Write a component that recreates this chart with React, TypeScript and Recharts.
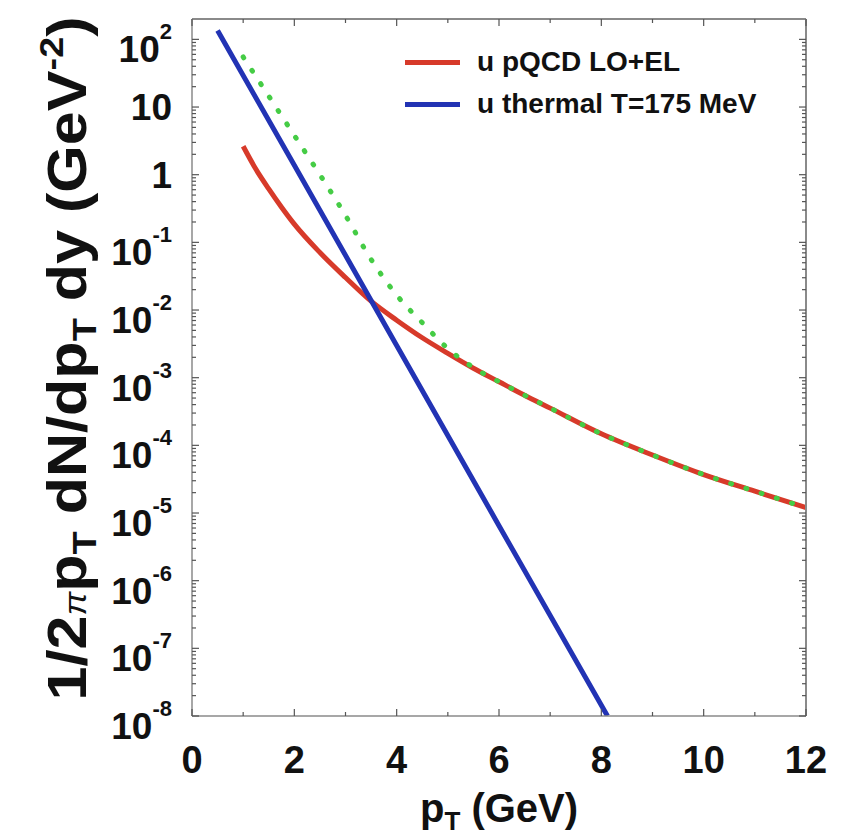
import React from "react";
import { LineChart, Line, XAxis, YAxis, Legend } from "recharts";

const FONT = "'Liberation Sans', Arial, Helvetica, sans-serif";
const RED = "#d73a2a";
const BLUE = "#2233b4";
const GREEN = "#45cc45";
const FRAME = "#8a8a8a";

// pT in GeV, yields in GeV^-2
const pqcdPt = [1, 1.25, 1.5, 1.75, 2, 2.5, 3, 3.5, 4, 4.5, 5, 5.5, 6, 6.5, 7, 8, 9, 10, 11, 12];
const pqcdYield = [
  2.63, 1.2, 0.617, 0.331, 0.186, 0.0708, 0.0302, 0.0135, 0.00708, 0.00389,
  0.00229, 0.00138, 8.7e-4, 5.5e-4, 3.55e-4, 1.48e-4, 7.2e-5, 3.7e-5, 2.1e-5, 1.2e-5,
];

const thermalPt = [0.5, 2, 4, 6, 8.12];
const thermalYield = [135, 1.38, 3.0e-3, 6.5e-6, 1e-8];

const sumPt = [1, 1.5, 2, 2.5, 3, 3.5, 4, 4.5, 5, 5.5, 6, 6.5, 7, 8, 9, 10, 11, 12];
const sumYield = [
  55, 14.5, 3.8, 1.0, 0.25, 0.056, 0.0166, 0.0065, 0.0027, 0.00141, 8.7e-4,
  5.5e-4, 3.55e-4, 1.48e-4, 7.2e-5, 3.7e-5, 2.1e-5, 1.2e-5,
];

const seriesNames = ["u pQCD LO+EL", "u thermal T=175 MeV", "sum"];

const X_DOMAIN = [0, 12];
const X_TICKS = [0, 1, 2, 3, 4, 5, 6, 7, 8, 9, 10, 11, 12];
const X_LABELED = [0, 2, 4, 6, 8, 10, 12];
const Y_DOMAIN = [1e-8, 200];
const Y_DECADES = [-8, -7, -6, -5, -4, -3, -2, -1, 0, 1, 2];
const Y_MINOR = [2, 3, 4, 5, 6, 7, 8, 9];
const Y_TICKS = Y_DECADES.flatMap((d) =>
  d === 2 ? [1e2] : [Math.pow(10, d), ...Y_MINOR.map((m) => m * Math.pow(10, d))],
);

const toPoints = (xs: number[], ys: number[]) => xs.map((x, i) => ({ x, y: ys[i] }));
const pqcd = toPoints(pqcdPt, pqcdYield);
const thermal = toPoints(thermalPt, thermalYield);
const total = toPoints(sumPt, sumYield);

const decadeOf = (v: number) => {
  const lg = Math.log10(v);
  const r = Math.round(lg);
  return Math.abs(lg - r) < 1e-6 ? r : null;
};

function YTick({ x, y, payload, side }: any) {
  const e = decadeOf(payload.value);
  const dir = side === "left" ? 1 : -1;
  const len = e === null ? 4 : 7;
  return (
    <g>
      <line x1={x} y1={y} x2={x + dir * len} y2={y} stroke="#555" strokeWidth={1.2} />
      {side === "left" && e !== null && (
        <text
          x={x - 20}
          y={e === 0 || e === 1 ? y + 13 : y + 23}
          textAnchor="end"
          fontFamily={FONT}
          fontWeight="bold"
          fontSize={37}
          fill="#111"
        >
          {e === 0 ? "1" : "10"}
          {e !== 0 && e !== 1 && (
            <tspan fontSize={22} dy={-23}>
              {String(e)}
            </tspan>
          )}
        </text>
      )}
    </g>
  );
}

function XTick({ x, y, payload, side }: any) {
  const v = payload.value;
  const major = X_LABELED.includes(v);
  const dir = side === "bottom" ? -1 : 1;
  const len = major ? 7 : 4;
  return (
    <g>
      <line x1={x} y1={y} x2={x} y2={y + dir * len} stroke="#555" strokeWidth={1.2} />
      {side === "bottom" && major && (
        <text
          x={x}
          y={y + 57}
          textAnchor="middle"
          fontFamily={FONT}
          fontWeight="bold"
          fontSize={38}
          fill="#111"
        >
          {String(v)}
        </text>
      )}
    </g>
  );
}

function XTitle({ viewBox }: any) {
  const cx = viewBox.x + viewBox.width / 2;
  const by = viewBox.y + 106;
  return (
    <text x={cx} y={by} textAnchor="middle" fontFamily={FONT} fontWeight="bold" fontSize={40} fill="#111">
      p
      <tspan fontSize={26} dy={8}>
        T
      </tspan>
      <tspan dy={-8}>{" (GeV)"}</tspan>
    </text>
  );
}

function YTitle({ viewBox }: any) {
  const bx = viewBox.x + 86;
  const cy = viewBox.y + viewBox.height / 2 - 9;
  return (
    <text
      x={bx}
      y={cy}
      transform={`rotate(-90 ${bx} ${cy})`}
      textAnchor="middle"
      fontFamily={FONT}
      fontWeight="bold"
      fontSize={55}
      textLength={684}
      lengthAdjust="spacingAndGlyphs"
      fill="#111"
    >
      1/2
      <tspan fontSize={32} fontStyle="italic" fontWeight="normal">
        π
      </tspan>
      <tspan>p</tspan>
      <tspan fontSize={34} dy={10}>
        T
      </tspan>
      <tspan dy={-10}>{" dN/dp"}</tspan>
      <tspan fontSize={34} dy={10}>
        T
      </tspan>
      <tspan dy={-10}>{" dy (GeV"}</tspan>
      <tspan fontSize={34} dy={-23}>
        -2
      </tspan>
      <tspan dy={23}>)</tspan>
    </text>
  );
}

function LegendBox({ payload }: any) {
  const items = (payload || []).filter((p: any) => p.type !== "none" && p.value !== seriesNames[2]);
  return (
    <div>
      {items.map((p: any) => (
        <div key={p.value} style={{ display: "flex", alignItems: "center", height: 42 }}>
          <span style={{ display: "inline-block", width: 55, height: 5, background: p.color }} />
          <span
            style={{
              marginLeft: 17,
              fontFamily: FONT,
              fontWeight: "bold",
              fontSize: 28,
              color: "#111",
              whiteSpace: "nowrap",
            }}
          >
            {p.value}
          </span>
        </div>
      ))}
    </div>
  );
}

export default function App() {
  return (
    <div style={{ position: "absolute", left: 0, top: 0, width: 858, height: 835, background: "#fff" }}>
      <LineChart width={858} height={835} margin={{ top: 18, right: 51, bottom: 0, left: 0 }}>
        <XAxis
          dataKey="x"
          type="number"
          domain={X_DOMAIN}
          ticks={X_TICKS}
          interval={0}
          allowDataOverflow
          height={119}
          tickSize={0}
          tickMargin={0}
          tickLine={false}
          axisLine={{ stroke: FRAME, strokeWidth: 1.5 }}
          tick={(p: any) => <XTick {...p} side="bottom" />}
          label={<XTitle />}
        />
        <XAxis
          xAxisId="top"
          orientation="top"
          dataKey="x"
          type="number"
          domain={X_DOMAIN}
          ticks={X_TICKS}
          interval={0}
          allowDataOverflow
          height={1}
          tickSize={0}
          tickMargin={0}
          tickLine={false}
          axisLine={{ stroke: FRAME, strokeWidth: 2 }}
          tick={(p: any) => <XTick {...p} side="top" />}
        />
        <YAxis
          type="number"
          scale="log"
          domain={Y_DOMAIN}
          ticks={Y_TICKS}
          interval={0}
          allowDataOverflow
          width={192}
          tickSize={0}
          tickMargin={0}
          tickLine={false}
          axisLine={{ stroke: FRAME, strokeWidth: 1.5 }}
          tick={(p: any) => <YTick {...p} side="left" />}
          label={<YTitle />}
        />
        <YAxis
          yAxisId="right"
          orientation="right"
          type="number"
          scale="log"
          domain={Y_DOMAIN}
          ticks={Y_TICKS}
          interval={0}
          allowDataOverflow
          width={1}
          tickSize={0}
          tickMargin={0}
          tickLine={false}
          axisLine={{ stroke: FRAME, strokeWidth: 2 }}
          tick={(p: any) => <YTick {...p} side="right" />}
        />
        <Legend
          layout="horizontal"
          verticalAlign="middle"
          wrapperStyle={{ left: 405, top: 41, width: 400 }}
          content={<LegendBox />}
        />
        <Line
          data={pqcd}
          dataKey="y"
          name={seriesNames[0]}
          type="monotone"
          stroke={RED}
          strokeWidth={5}
          dot={false}
          isAnimationActive={false}
        />
        <Line
          data={thermal}
          dataKey="y"
          name={seriesNames[1]}
          type="linear"
          stroke={BLUE}
          strokeWidth={5}
          dot={false}
          isAnimationActive={false}
        />
        {/* the sum curve sits on the mirrored top/right axes (same scales) so they get drawn */}
        <Line
          data={total}
          dataKey="y"
          xAxisId="top"
          yAxisId="right"
          name={seriesNames[2]}
          type="monotone"
          stroke={GREEN}
          strokeWidth={5}
          strokeDasharray="1 15"
          strokeLinecap="round"
          legendType="none"
          dot={false}
          isAnimationActive={false}
        />
      </LineChart>
    </div>
  );
}
